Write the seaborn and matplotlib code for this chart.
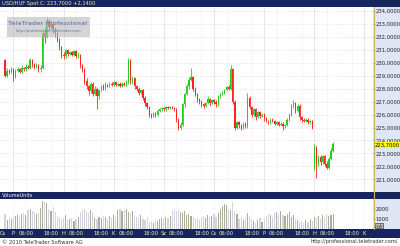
import numpy as np
import pandas as pd
import matplotlib
matplotlib.use("Agg")
import matplotlib.pyplot as plt
import seaborn as sns
from matplotlib.patches import Rectangle

# ---------------- data (hourly candles, weekends removed) ----------------
opens = [230.2, 229.0, 229.4, 229.3, 229.5, 228.9, 229.4, 229.5, 229.3, 229.6,
         229.5, 229.7, 229.6, 230.2, 229.9, 229.7, 229.8, 229.5, 229.6, 232.3,
         232.0, 233.2, 232.8, 233.0, 232.6, 232.3, 231.8, 231.2, 230.6, 230.5,
         231.0, 230.7, 230.8, 230.6, 230.9, 230.5, 230.6, 229.8, 229.5, 228.6,
         228.2, 227.8, 228.4, 227.6, 228.0, 227.4, 227.9, 228.2, 228.0, 228.3,
         228.2, 228.4, 228.3, 228.5, 228.3, 228.4, 228.2, 228.4, 228.3, 228.5,
         230.2, 228.6, 228.8, 228.2, 228.0, 227.7, 227.9, 227.3, 226.9, 226.6,
         226.0, 225.9, 226.1, 226.0, 226.3, 226.4, 226.5, 226.4, 226.6, 226.5,
         226.6, 226.5, 226.4, 225.6, 225.0, 225.2, 226.8, 227.6, 228.2, 228.7,
         228.9, 228.0, 227.6, 227.2, 227.0, 226.8, 226.7, 226.9, 227.2, 226.9,
         227.1, 227.0, 226.8, 227.4, 227.6, 227.7, 227.9, 228.1, 228.0, 229.5,
         227.0, 225.0, 225.4, 225.2, 225.0, 225.3, 225.1, 227.3, 226.6, 226.0,
         226.4, 225.8, 226.2, 225.9, 226.0, 225.7, 225.5, 225.4, 225.6, 225.5,
         225.3, 225.4, 225.2, 225.3, 225.1, 225.2, 225.6, 226.0, 226.6, 226.9,
         226.3, 226.7, 225.8, 225.6, 225.5, 225.6, 225.4, 225.5, 221.8, 223.5,
         222.2, 222.7, 222.3, 222.8, 222.2, 221.9, 222.6, 223.2]
closes = [229.0, 229.4, 229.3, 229.5, 228.9, 229.4, 229.5, 229.3, 229.6, 229.5,
          229.7, 229.6, 230.2, 229.9, 229.7, 229.8, 229.5, 229.6, 232.3, 232.0,
          233.2, 232.8, 233.0, 232.6, 232.3, 231.8, 231.2, 230.6, 230.5, 231.0,
          230.7, 230.8, 230.6, 230.9, 230.5, 230.6, 229.8, 229.5, 228.6, 228.2,
          227.8, 228.4, 227.6, 228.0, 227.4, 227.9, 228.2, 228.0, 228.3, 228.2,
          228.4, 228.3, 228.5, 228.3, 228.4, 228.2, 228.4, 228.3, 228.5, 230.2,
          228.6, 228.8, 228.2, 228.0, 227.7, 227.9, 227.3, 226.9, 226.6, 226.0,
          225.9, 226.1, 226.0, 226.3, 226.4, 226.5, 226.4, 226.6, 226.5, 226.6,
          226.5, 226.4, 225.6, 225.0, 225.2, 226.8, 227.6, 228.2, 228.7, 228.9,
          228.0, 227.6, 227.2, 227.0, 226.8, 226.7, 226.9, 227.2, 226.9, 227.1,
          227.0, 226.8, 227.4, 227.6, 227.7, 227.9, 228.1, 228.0, 229.5, 227.0,
          225.0, 225.4, 225.2, 225.0, 225.3, 225.1, 227.3, 226.6, 226.0, 226.4,
          225.8, 226.2, 225.9, 226.0, 225.7, 225.5, 225.4, 225.6, 225.5, 225.3,
          225.4, 225.2, 225.3, 225.1, 225.2, 225.6, 226.0, 226.6, 226.9, 226.3,
          226.7, 225.8, 225.6, 225.5, 225.6, 225.4, 225.5, 225.0, 223.5, 222.2,
          222.7, 222.3, 222.8, 222.2, 221.9, 222.6, 223.2, 223.7]
highs = [230.3, 229.6, 229.5, 229.7, 229.6, 229.5, 229.7, 229.6, 229.8, 229.7,
         229.9, 229.8, 230.4, 230.3, 230.0, 230.0, 229.9, 229.8, 232.5, 232.8,
         233.5, 233.4, 233.3, 233.2, 232.8, 232.4, 231.9, 231.3, 230.8, 231.1,
         231.1, 230.9, 230.9, 231.0, 231.0, 230.8, 230.7, 229.9, 229.6, 228.8,
         228.3, 228.5, 228.5, 228.2, 228.1, 228.0, 228.3, 228.4, 228.5, 228.4,
         228.5, 228.5, 228.6, 228.6, 228.5, 228.5, 228.5, 228.5, 228.7, 230.4,
         230.3, 229.0, 228.9, 228.3, 228.1, 228.0, 228.0, 227.4, 227.0, 226.7,
         226.1, 226.2, 226.2, 226.4, 226.5, 226.6, 226.6, 226.7, 226.7, 226.7,
         226.7, 226.6, 226.5, 225.7, 225.4, 226.9, 227.7, 228.4, 228.9, 229.6,
         229.0, 228.1, 227.7, 227.3, 227.1, 226.9, 227.0, 227.4, 227.3, 227.2,
         227.2, 227.1, 227.5, 227.7, 227.8, 228.0, 228.2, 228.3, 229.8, 229.6,
         227.1, 225.5, 225.5, 225.3, 225.4, 225.4, 227.7, 227.4, 226.7, 226.5,
         226.5, 226.3, 226.3, 226.1, 226.1, 225.8, 225.6, 225.7, 225.7, 225.6,
         225.5, 225.5, 225.4, 225.4, 225.3, 225.7, 226.1, 226.8, 227.1, 227.0,
         226.8, 226.8, 225.9, 225.7, 225.7, 225.7, 225.6, 225.6, 223.7, 223.6,
         222.9, 222.9, 222.9, 222.9, 222.4, 222.7, 223.4, 223.9]
lows = [228.9, 228.9, 229.1, 229.2, 228.6, 228.8, 229.3, 229.2, 229.2, 229.4,
        229.4, 229.5, 229.5, 229.7, 229.5, 229.6, 229.3, 229.3, 229.5, 231.5,
        231.9, 232.5, 232.6, 232.3, 232.0, 231.6, 231.0, 230.4, 230.3, 230.4,
        230.5, 230.6, 230.5, 230.5, 230.4, 230.4, 229.6, 229.3, 228.4, 228.0,
        227.5, 227.7, 227.4, 227.5, 226.4, 227.2, 227.8, 227.9, 227.9, 228.1,
        228.1, 228.2, 228.2, 228.2, 228.2, 228.1, 228.1, 228.2, 228.2, 228.4,
        228.4, 228.4, 228.0, 227.8, 227.5, 227.6, 227.1, 226.7, 226.4, 225.8,
        225.7, 225.8, 225.8, 225.9, 226.2, 226.3, 226.3, 226.3, 226.4, 226.4,
        226.4, 226.3, 225.4, 224.8, 224.9, 225.1, 226.6, 227.5, 228.0, 228.6,
        227.8, 227.4, 227.0, 226.8, 226.6, 226.5, 226.6, 226.8, 226.7, 226.8,
        226.8, 226.6, 226.7, 227.3, 227.5, 227.6, 227.8, 227.9, 227.9, 226.8,
        224.8, 224.9, 225.0, 224.8, 224.9, 225.0, 225.0, 226.4, 225.8, 225.9,
        225.6, 225.7, 225.7, 225.8, 225.5, 225.4, 225.3, 225.3, 225.4, 225.2,
        225.2, 225.1, 225.1, 224.8, 225.0, 225.1, 225.5, 225.9, 226.5, 226.1,
        226.2, 225.6, 225.4, 225.4, 225.4, 225.3, 225.3, 224.9, 221.7, 221.1,
        222.0, 222.1, 222.2, 222.0, 221.8, 221.8, 222.5, 223.1]

volumes = [1500, 900, 1100, 1000, 1200, 1300, 1400, 1200, 1500, 1600,
           1400, 1900, 2000, 1800, 1700, 1500, 1600, 2100, 2800, 2700,
           2600, 2000, 1800, 2200, 1700, 1300, 1200, 1000, 1100, 1400,
           900, 1000, 1100, 800, 1000, 1200, 1700, 1900, 2000, 1800,
           1600, 1900, 1700, 1100, 1000, 1200, 1100, 1300, 1200, 1000,
           1300, 1100, 1400, 1200, 1900, 2000, 1800, 1900, 2000, 1700,
           1600, 1800, 1300, 1200, 1100, 1400, 1000, 900, 1200, 700,
           800, 600, 900, 800, 1000, 1100, 1000, 1200, 1100, 1300,
           1900, 2000, 1800, 1900, 1700, 1600, 1800, 1400, 1500, 1300,
           1200, 1000, 1100, 900, 1200, 1300, 1100, 1400, 1200, 1300,
           1500, 1200, 1600, 2000, 2300, 2500, 2400, 2000, 1900, 2700,
           1800, 1500, 1000, 1200, 900, 1100, 1600, 1300, 1000, 800,
           600, 900, 1100, 700, 1000, 1300, 1500, 1400, 1200, 1600,
           1700, 1500, 1800, 1400, 1300, 1500, 1700, 1200, 1400, 1000,
           900, 700, 800, 600, 900, 700, 1000, 800, 1200, 1100,
           1300, 1000, 1400, 1200, 1500, 1300, 1400, 1500]

day_letters = ["P", "H", "K", "Sz", "Cs", "P", "H", "K"]
day_starts = [4, 28, 52, 76, 100, 124, 148, 172]
price_ticks = [221, 222, 223, 224, 225, 226, 227, 228, 229, 230, 231, 232, 233, 234]
title_text = "USD/HUF Spot C: 223,7000 +2,1400"
last_price = 223.7
last_volume = 773

# ---------------- figure ----------------
sns.set_theme(style="white")
plt.rcParams['font.family'] = ['DejaVu Sans']

W, H = 400, 246
fig = plt.figure(figsize=(4.0, 2.46), dpi=100)
fig.patch.set_facecolor("white")

def rect(x0, y0, x1, y1):
    return [x0 / W, 1 - y1 / H, (x1 - x0) / W, (y1 - y0) / H]

NAVY = "#16265c"
RIGHT_BG = "#dfe7f7"
GREEN = "#22cc22"
RED = "#ff2020"

# right panel background (an axes placed under everything)
axbg = fig.add_axes(rect(373, 7, 400, 229), zorder=-5)
axbg.set_facecolor(RIGHT_BG)
axbg.set_xticks([]); axbg.set_yticks([])
for s in axbg.spines.values():
    s.set_visible(False)

idx = np.arange(len(closes))
xlim = (-2.4, 176.1)

# ---- price panel
axp = fig.add_axes(rect(0, 7, 373, 192))
axp.set_facecolor("white")
axp.set_xlim(*xlim)
axp.set_ylim(220.02, 234.31)
for p in price_ticks:
    axp.axhline(p, color="#e8c8c8", lw=0.5, ls=(0, (1, 2)), zorder=0)
for d in day_starts:
    for off in (0, 6, 18):
        axp.axvline(d + off, color="#dddddd" if off == 0 else "#ecd0d0",
                    lw=0.5, ls="-" if off == 0 else (0, (1, 2)), zorder=0)
cols = [GREEN if c >= o else RED for o, c in zip(opens, closes)]
axp.vlines(idx, lows, highs, colors=cols, lw=0.6, zorder=2)
bodies = [max(abs(c - o), 0.05) for o, c in zip(opens, closes)]
axp.bar(idx, bodies, bottom=[min(o, c) for o, c in zip(opens, closes)],
        width=0.6, color=cols, lw=0, zorder=3)
axp.yaxis.tick_right()
axp.set_yticks(price_ticks)
axp.set_yticklabels([f"{p},0000" for p in price_ticks])
axp.tick_params(axis="y", labelsize=3.8, pad=0.5, length=1.5, width=0.4,
                color="#555555", labelcolor="#222222", direction="out")
axp.set_xticks([])
for s in axp.spines.values():
    s.set_visible(False)
axp.text(1.004, last_price - 0.05, "223,7000", transform=axp.get_yaxis_transform(),
         fontsize=3.8, va="center", ha="left", color="black", zorder=10,
         bbox=dict(boxstyle="square,pad=0.05", fc="#ffff00", ec="none"))

# logo
axp.add_patch(Rectangle((7 / 373, 1 - 30 / 185), 83 / 373, 20 / 185,
                        transform=axp.transAxes, fc="#b8b8b8", alpha=0.6,
                        ec="none", zorder=5))
axp.text(48 / 373, 1 - 16.5 / 185, "TeleTrader Professional", transform=axp.transAxes,
         fontsize=4.3, fontweight="bold", color="#7f8fb8", ha="center", va="center", zorder=6)
axp.text(48 / 373, 1 - 24 / 185, "http://professional.teletrader.com", transform=axp.transAxes,
         fontsize=2.8, color="#6474a4", ha="center", va="center", zorder=6)

# ---- volume panel
axv = fig.add_axes(rect(0, 199, 373, 229))
axv.set_facecolor("white")
df = pd.DataFrame({"i": idx, "vol": volumes,
                   "grp": ["up" if c >= o else "dn" for o, c in zip(opens, closes)]})
sns.barplot(data=df, x="i", y="vol", hue="grp", palette={"up": "#b0b096", "dn": "#d0d2e4"},
            native_scale=True, dodge=False, width=0.55, errorbar=None, legend=False,
            linewidth=0, ax=axv)
axv.set_xlim(*xlim)
axv.set_ylim(0, 3000)
for d in day_starts:
    for off in (0, 6, 18):
        axv.axvline(d + off, color="#e4e4e4", lw=0.5, ls=(0, (1, 2)), zorder=0)
axv.yaxis.tick_right()
axv.set_yticks([1000, 2000])
axv.set_yticklabels(["1000", "2000"])
axv.tick_params(axis="y", labelsize=3.8, pad=0.5, length=1.5, width=0.4,
                color="#555555", labelcolor="#222222", direction="out")
axv.set_xticks([])
axv.set_xlabel("")
axv.set_ylabel("")
for s in axv.spines.values():
    s.set_visible(False)
axv.text(1.004, 0.1, str(last_volume), transform=axv.transAxes, fontsize=3.6,
         va="center", ha="left", color="white", zorder=10,
         bbox=dict(boxstyle="square,pad=0.1", fc="#707070", ec="none"))

# khaki separator line
fig.add_artist(plt.Line2D([373.5 / W, 373.5 / W], [1 - 7 / H, 1 - 229 / H],
                          transform=fig.transFigure, color="#c8b45a", lw=0.8))

# ---- title bar
axt = fig.add_axes(rect(0, 0, 400, 7))
axt.set_facecolor(NAVY)
axt.set_xticks([]); axt.set_yticks([])
for s in axt.spines.values():
    s.set_visible(False)
axt.text(2 / W, 0.45, title_text, transform=axt.transAxes, fontsize=3.7,
         color="#f4ee9a", va="center", ha="left")

# ---- separator bar
axs = fig.add_axes(rect(0, 192, 400, 199))
axs.set_facecolor(NAVY)
axs.set_xticks([]); axs.set_yticks([])
for s in axs.spines.values():
    s.set_visible(False)
axs.text(2 / W, 0.45, "VolumeUnits", transform=axs.transAxes, fontsize=3.6,
         color="white", va="center", ha="left")

# ---- time axis bar
axx = fig.add_axes(rect(0, 229, 400, 238))
axx.set_facecolor(NAVY)
axx.set_xlim(xlim[0], xlim[0] + (xlim[1] - xlim[0]) * 400 / 373)
axx.set_ylim(0, 1)
axx.set_xticks([]); axx.set_yticks([])
for s in axx.spines.values():
    s.set_visible(False)
labels = [(-1, "Cs")]
for d, L in zip(day_starts, day_letters):
    labels.append((d, L))
    if d + 6 < 176:
        labels.append((d + 6, "06:00"))
    if d + 18 < 176:
        labels.append((d + 18, "18:00"))
for pos, lab in labels:
    axx.text(pos, 0.45, lab, fontsize=3.7, color="#f4f0c8", ha="center", va="center")

# ---- footer
fig.text(2 / W, 1 - 242 / H, "\u00a9 2010 TeleTrader Software AG", fontsize=3.7,
         color="#333333", va="center", ha="left")
fig.text(398 / W, 1 - 242 / H, "http://professional.teletrader.com/", fontsize=3.7,
         color="#333333", va="center", ha="right")

fig.savefig("out.png", dpi=100)
